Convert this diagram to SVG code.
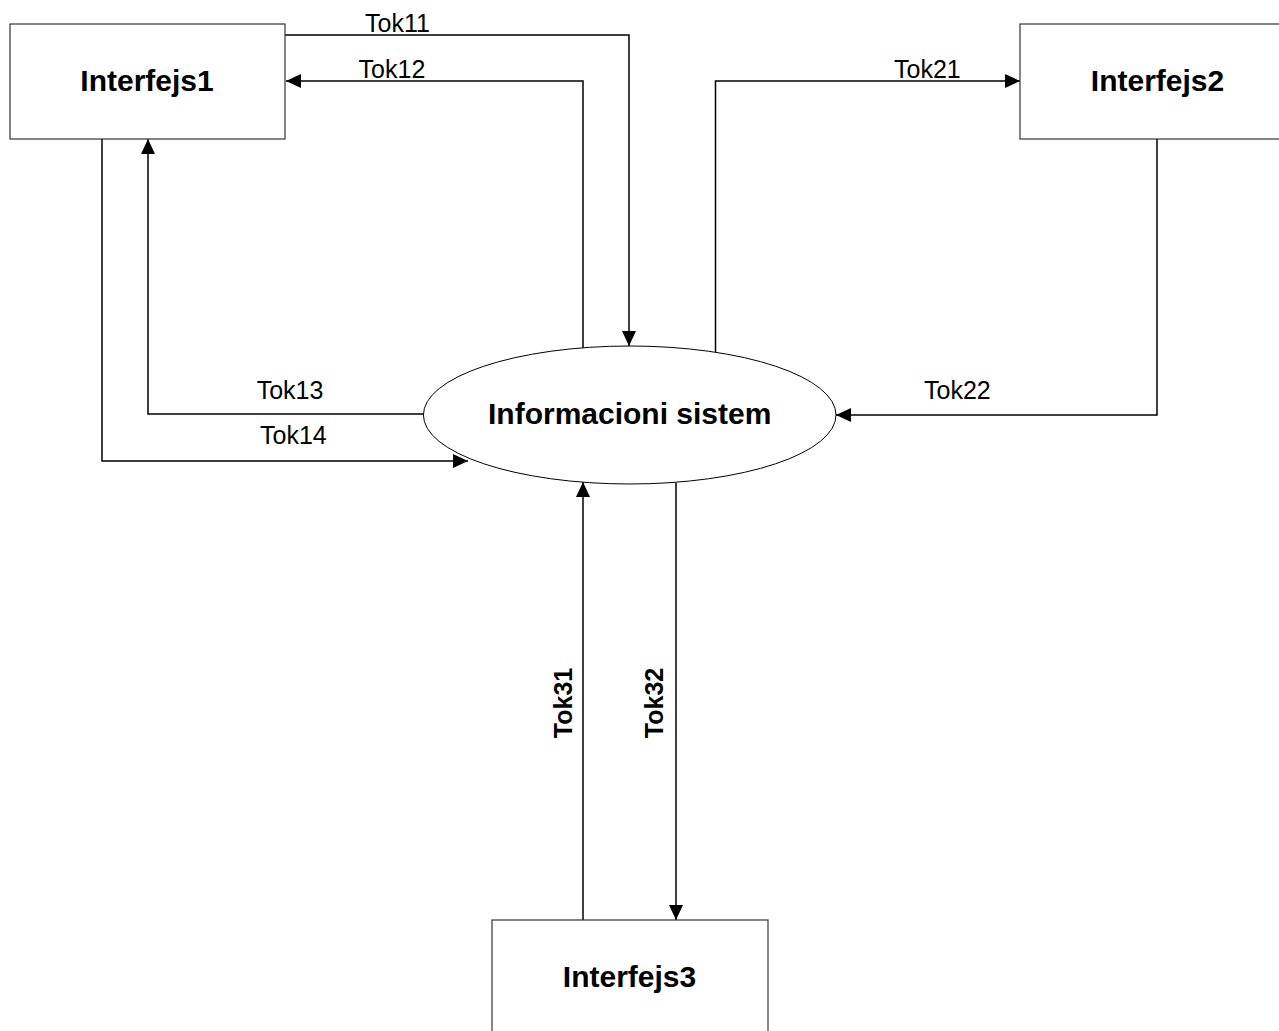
<svg xmlns="http://www.w3.org/2000/svg" width="1279" height="1031" viewBox="0 0 1279 1031">
<style>
.box{fill:#fff;stroke:#333;stroke-width:1.2}
.ell{fill:#fff;stroke:#000;stroke-width:1}
.conn{fill:none;stroke:#000;stroke-width:1.5}
.title{font-family:"Liberation Sans",Arial,sans-serif;font-weight:bold;font-size:30px;text-anchor:middle;fill:#000}
.lbl{font-family:"Liberation Sans",Arial,sans-serif;font-size:25px;fill:#000}
.vlbl{font-family:"Liberation Sans",Arial,sans-serif;font-weight:bold;font-size:25px;fill:#000;text-anchor:middle}
</style>
<defs>
<marker id="arr" markerUnits="userSpaceOnUse" markerWidth="16" markerHeight="15" refX="15" refY="7" orient="auto">
<path d="M0,0 L15,7 L0,14 z" fill="#000"/>
</marker>
</defs>
<rect width="1279" height="1031" fill="#fff"/>
<g id="connectors">
<path class="conn" d="M285,35 H629 V346" marker-end="url(#arr)"/>
<path class="conn" d="M583,348 V81 H286" marker-end="url(#arr)"/>
<path class="conn" d="M715.5,352 V81 H1020" marker-end="url(#arr)"/>
<path class="conn" d="M1157,139 V415 H836" marker-end="url(#arr)"/>
<path class="conn" d="M423,414 H148 V139" marker-end="url(#arr)"/>
<path class="conn" d="M102,139 V461 H468" marker-end="url(#arr)"/>
<path class="conn" d="M583,920 V482" marker-end="url(#arr)"/>
<path class="conn" d="M676,483 V920" marker-end="url(#arr)"/>
<text class="lbl" x="365" y="32">Tok11</text>
<text class="lbl" x="358.6" y="78">Tok12</text>
<text class="lbl" x="894" y="78">Tok21</text>
<text class="lbl" x="256.7" y="399">Tok13</text>
<text class="lbl" x="260" y="444">Tok14</text>
<text class="lbl" x="924" y="399">Tok22</text>
<text class="vlbl" transform="translate(572,703) rotate(-90)">Tok31</text>
<text class="vlbl" transform="translate(663,703) rotate(-90)">Tok32</text>
</g>
<g id="interfejs1">
<rect class="box" x="10" y="24" width="275" height="115"/>
<text class="title" x="147" y="91">Interfejs1</text>
</g>
<g id="interfejs2">
<rect class="box" x="1020" y="24" width="275" height="115"/>
<text class="title" x="1157.5" y="91">Interfejs2</text>
</g>
<g id="interfejs3">
<rect class="box" x="492" y="920" width="276" height="120"/>
<text class="title" x="629.5" y="987">Interfejs3</text>
</g>
<g id="informacioni-sistem">
<ellipse class="ell" cx="629.7" cy="415" rx="206.3" ry="69"/>
<text class="title" x="629.7" y="424">Informacioni sistem</text>
</g>
</svg>
